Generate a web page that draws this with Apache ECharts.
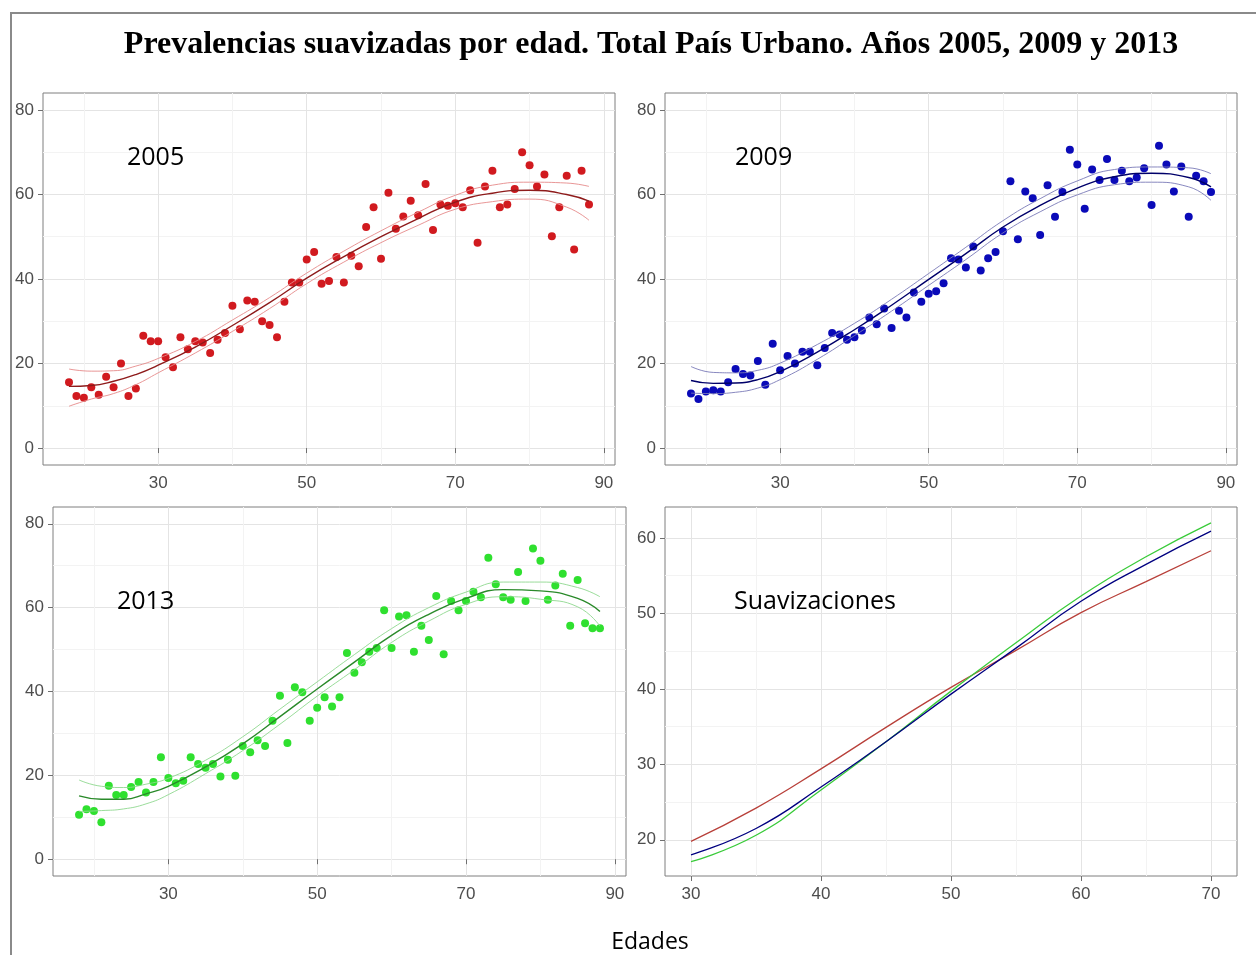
<!DOCTYPE html>
<html><head><meta charset="utf-8">
<script src="https://cdn.jsdelivr.net/npm/echarts@6/dist/echarts.min.js"></script>
<style>html,body{margin:0;padding:0;background:#fff}#c{width:1256px;height:955px}</style>
</head><body><div id="c"></div><script>
// ---- data ----
const ages = [18,19,20,21,22,23,24,25,26,27,28,29,30,31,32,33,34,35,36,37,38,39,40,41,42,43,44,45,46,47,48,49,50,51,52,53,54,55,56,57,58,59,60,61,62,63,64,65,66,67,68,69,70,71,72,73,74,75,76,77,78,79,80,81,82,83,84,85,86,87,88];
const prev2005 = [15.6,12.3,11.9,14.4,12.6,16.9,14.4,20.0,12.3,14.1,26.6,25.3,25.3,21.5,19.1,26.2,23.4,25.3,25.0,22.5,25.6,27.2,33.7,28.1,34.9,34.6,30.0,29.1,26.2,34.6,39.2,39.2,44.6,46.4,38.9,39.5,45.2,39.2,45.5,43.0,52.3,57.0,44.8,60.4,51.9,54.8,58.5,55.1,62.5,51.6,57.6,57.3,57.9,57.0,61.0,48.6,61.9,65.6,57.0,57.6,61.3,70.0,66.9,61.9,64.7,50.1,57.0,64.4,47.0,65.6,57.6];
const prev2009 = [12.9,11.6,13.4,13.7,13.4,15.6,18.7,17.5,17.2,20.6,15.0,24.7,18.4,21.8,20.0,22.8,22.8,19.6,23.7,27.2,26.9,25.6,26.2,27.8,30.9,29.3,33.0,28.4,32.5,30.9,36.8,34.6,36.5,37.1,39.0,44.9,44.6,42.7,47.7,42.0,44.9,46.4,51.3,63.1,49.4,60.7,59.1,50.4,62.2,54.7,60.6,70.6,67.1,56.6,65.9,63.4,68.4,63.4,65.6,63.1,64.0,66.2,57.5,71.5,67.1,60.7,66.6,54.7,64.4,63.1,60.6];
const prev2013 = [10.6,11.9,11.5,8.8,17.5,15.3,15.3,17.2,18.4,15.9,18.4,24.3,19.4,18.1,18.7,24.3,22.7,21.8,22.7,19.7,23.7,19.9,27.0,25.5,28.4,27.0,33.0,39.0,27.7,41.0,39.8,33.0,36.1,38.6,36.4,38.6,49.2,44.5,47.0,49.5,50.4,59.4,50.4,57.9,58.2,49.5,55.7,52.3,62.8,48.9,61.6,59.4,61.6,63.8,62.5,71.9,65.6,62.5,61.9,68.5,61.6,74.1,71.2,61.9,65.3,68.1,55.7,66.6,56.3,55.1,55.1];

const smoothAges = [18,21,24,27,30,35,40,45,50,55,60,65,70,75,80,85,88];
const fit2005 = [14.6,14.8,15.8,17.4,19.6,23.9,29.0,34.4,40.2,45.3,50.0,54.3,58.2,60.3,61.0,60.0,58.4];
const up2005  = [18.7,18.2,18.3,19.4,21.2,25.2,30.3,35.6,41.4,46.6,51.4,55.8,59.8,62.2,62.9,62.7,61.9];
const lo2005  = [9.9,11.6,12.9,15.0,17.8,22.5,27.6,33.0,38.9,44.0,48.6,52.7,56.5,58.3,58.9,57.0,53.9];
const fit2009 = [16.0,15.3,15.4,16.2,18.1,22.7,28.0,33.8,39.9,46.0,52.3,57.4,61.5,64.2,65.0,64.0,61.8];
const up2009  = [19.3,17.9,17.8,18.4,20.1,24.5,29.5,35.2,41.3,47.5,53.8,59.0,63.2,65.9,66.5,66.3,64.9];
const lo2009  = [13.0,12.9,13.2,14.2,16.2,21.0,26.6,32.4,38.5,44.6,50.9,55.9,59.9,62.3,62.9,61.8,58.6];
const fit2013 = [15.1,14.3,14.3,15.6,17.4,22.0,27.5,34.0,40.6,47.0,53.4,58.4,62.2,64.3,64.0,62.2,59.1];
const up2013  = [18.9,17.4,17.1,17.9,19.3,23.6,29.2,35.8,42.3,48.8,55.0,60.0,63.7,66.1,66.1,64.8,62.6];
const lo2013  = [11.4,11.6,12.0,13.2,15.4,20.4,25.9,32.2,38.9,45.2,51.7,56.8,60.8,62.6,62.0,60.2,55.6];

const suavAges = [30,35,40,45,50,55,60,65,70];
const suav2005 = [19.8,24.2,29.4,34.9,40.2,45.1,50.1,54.2,58.3];
const suav2009 = [18.0,21.5,27.0,33.0,39.3,45.4,51.6,56.5,60.9];
const suav2013 = [17.1,20.6,26.6,33.0,39.7,46.1,52.3,57.5,62.0];

const xTicksAge = [30,50,70,90];
const xMinorAge = [20,40,60,80];
const yTicksPrev = [0,20,40,60,80];
const yMinorPrev = [10,30,50,70];
const xTicksSuav = [30,40,50,60,70];
const xMinorSuav = [35,45,55,65];
const yTicksSuav = [20,30,40,50,60];
const yMinorSuav = [25,35,45,55];

// ---- chart ----
const zip = (xs, ys) => xs.map((x, i) => [x, ys[i]]);
const LBL = {color:'#4d4d4d', fontSize:17, fontFamily:'Liberation Sans'};

const grids = [
  {left:43, top:93, width:572, height:372},
  {left:665, top:93, width:572, height:372},
  {left:53, top:507, width:573, height:369},
  {left:665, top:507, width:572, height:369}
].map(g => Object.assign({show:true, backgroundColor:'#fff', borderColor:'#7f7f7f', borderWidth:1, containLabel:false}, g));

const xAxes = [], yAxes = [];
function addAxes(gi, xr, xMaj, xMin, yr, yMaj, yMin) {
  xAxes.push({gridIndex:gi, type:'value', min:xr[0], max:xr[1], position:'bottom',
    axisLine:{show:false},
    axisTick:{show:true, customValues:xMaj, length:5, lineStyle:{color:'#6f6f6f'}},
    axisLabel:Object.assign({customValues:xMaj, margin:10}, LBL),
    splitLine:{show:true, lineStyle:{color:'#e4e4e4', width:1}}});
  xAxes.push({gridIndex:gi, type:'value', min:xr[0], max:xr[1], position:'top',
    axisLine:{show:false}, axisTick:{show:false, customValues:xMin}, axisLabel:{show:false},
    splitLine:{show:true, lineStyle:{color:'#f3f3f3', width:1}}});
  yAxes.push({gridIndex:gi, type:'value', min:yr[0], max:yr[1], position:'left',
    axisLine:{show:false},
    axisTick:{show:true, customValues:yMaj, length:5, lineStyle:{color:'#6f6f6f'}},
    axisLabel:Object.assign({customValues:yMaj, margin:9}, LBL),
    splitLine:{show:true, lineStyle:{color:'#e4e4e4', width:1}}});
  yAxes.push({gridIndex:gi, type:'value', min:yr[0], max:yr[1], position:'right',
    axisLine:{show:false}, axisTick:{show:false, customValues:yMin}, axisLabel:{show:false},
    splitLine:{show:true, lineStyle:{color:'#f3f3f3', width:1}}});
}
addAxes(0, [14.5,91.5], xTicksAge, xMinorAge, [-4,84], yTicksPrev, yMinorPrev);
addAxes(1, [14.5,91.5], xTicksAge, xMinorAge, [-4,84], yTicksPrev, yMinorPrev);
addAxes(2, [14.5,91.5], xTicksAge, xMinorAge, [-4,84], yTicksPrev, yMinorPrev);
addAxes(3, [28,72], xTicksSuav, xMinorSuav, [15.2,64.1], yTicksSuav, yMinorSuav);

const series = [];
function panel(gi, pts, fit, up, lo, ptColor, fitColor, bandColor) {
  const ax = {xAxisIndex:2*gi, yAxisIndex:2*gi};
  series.push(Object.assign({type:'scatter', data:zip(ages, pts), symbolSize:8,
    itemStyle:{color:ptColor, opacity:1}, z:3}, ax));
  [[up, bandColor, 0.9], [lo, bandColor, 0.9], [fit, fitColor, 1.4]].forEach(([d, c, w]) => {
    series.push(Object.assign({type:'line', data:zip(smoothAges, d), smooth:0.5,
      showSymbol:false, lineStyle:{color:c, width:w}, z:4}, ax));
  });
}
panel(0, prev2005, fit2005, up2005, lo2005, '#d11a1f', '#8e1b1b', '#e58a8a');
panel(1, prev2009, fit2009, up2009, lo2009, '#0a0ab8', '#00006a', '#7a7ab8');
panel(2, prev2013, fit2013, up2013, lo2013, '#2fe02f', '#2a8a2a', '#8ed88e');
[[suav2005, '#b8403a'], [suav2013, '#3acb3a'], [suav2009, '#000080']].forEach(([d, c]) => {
  series.push({type:'line', xAxisIndex:6, yAxisIndex:6, data:zip(suavAges, d), smooth:0.5,
    showSymbol:false, lineStyle:{color:c, width:1.3}, z:4});
});

const txt = (t, x, y, font, align) => ({type:'text', x:x, y:y, z:10,
  style:{text:t, font:font, fill:'#000', textAlign:align || 'left', textVerticalAlign:'middle'}});
const panelFont = '25px "Open Sans"';

const option = {
  animation:false,
  backgroundColor:'#fff',
  grid:grids, xAxis:xAxes, yAxis:yAxes, series:series,
  graphic:[
    {type:'polyline', z:10, shape:{points:[[11,955],[11,13],[1256,13]]}, style:{stroke:'#8a8a8a', lineWidth:2, fill:null}},
    txt('Prevalencias suavizadas por edad. Total País Urbano. Años 2005, 2009 y 2013', 651, 45, 'bold 32px "Liberation Serif"', 'center'),
    txt('2005', 127, 158, panelFont),
    txt('2009', 735, 158, panelFont),
    txt('2013', 117, 602, panelFont),
    txt('Suavizaciones', 734, 602, panelFont),
    txt('Edades', 650, 942, '23px "Open Sans"', 'center')
  ]
};
const chart = echarts.init(document.getElementById('c'));
chart.setOption(option);
</script></body></html>
